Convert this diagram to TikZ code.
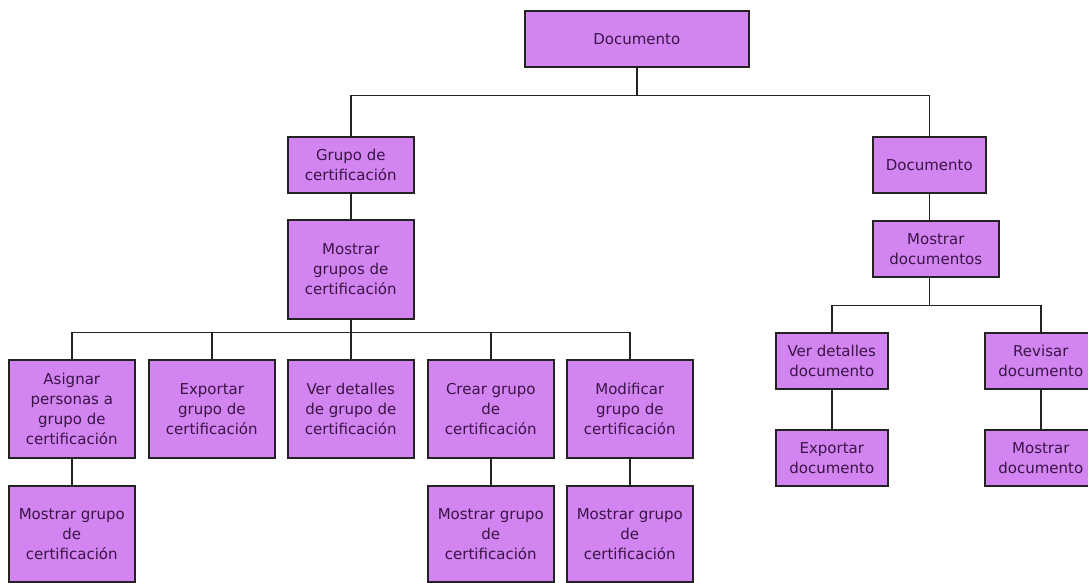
\documentclass[tikz,border=0pt]{standalone}
\usepackage{fontspec}
\setmainfont{DejaVu Sans}
\definecolor{boxfill}{RGB}{210,132,240}
\definecolor{txtcol}{RGB}{58,20,70}
\definecolor{edgecol}{RGB}{35,35,35}
\begin{document}
\begin{tikzpicture}[x=1pt,y=-1pt,
  box/.style={draw=edgecol, fill=boxfill, text=txtcol, line width=1.6pt,
    inner sep=0pt, align=center, anchor=north west,
    font=\fontsize{15}{20}\selectfont},
  wA/.style={minimum width=126pt},
  wB/.style={minimum width=112pt},
  hA/.style={minimum height=56pt},
  hB/.style={minimum height=98pt},
  conn/.style={draw=edgecol, line width=1.6pt}]
\useasboundingbox (0,0) rectangle (1088,583);
\clip (0,0) rectangle (1088,583);
\fill[white] (0,0) rectangle (1088,583);

\node[box, minimum width=224pt, hA] (root) at (524,10) {Documento};
\node[box, wA, hA] (grupo) at (287,136) {Grupo de\\certificación};
\node[box, minimum width=113pt, hA] (doc) at (872,136) {Documento};
\node[box, wA, minimum height=99pt] (mgr) at (287,219) {Mostrar\\grupos de\\certificación};

\node[box, wA, hB] (asig) at (8,359) {Asignar\\personas a\\grupo de\\certificación};
\node[box, wA, hB] (expg) at (148,359) {Exportar\\grupo de\\certificación};
\node[box, wA, hB] (ver) at (287,359) {Ver detalles\\de grupo de\\certificación};
\node[box, wA, hB] (crear) at (427,359) {Crear grupo\\de\\certificación};
\node[box, wA, hB] (modif) at (566,359) {Modificar\\grupo de\\certificación};

\node[box, wA, minimum height=96pt] (asigm) at (8,485) {Mostrar grupo\\de\\certificación};
\node[box, wA, minimum height=96pt] (crearm) at (427,485) {Mostrar grupo\\de\\certificación};
\node[box, wA, minimum height=96pt] (modifm) at (566,485) {Mostrar grupo\\de\\certificación};

\node[box, wA, hA] (mdocs) at (872,220) {Mostrar\\documentos};
\node[box, wB, hA] (verdoc) at (775,332) {Ver detalles\\documento};
\node[box, wB, hA] (rev) at (984,332) {Revisar\\documento};
\node[box, wB, hA] (expdoc) at (775,429) {Exportar\\documento};
\node[box, wB, hA] (mdoc) at (984,429) {Mostrar\\documento};

\draw[conn] (root.south) -- ++(0,28) -| (grupo.north)
            (root.south) ++(0,28) -| (doc.north);
\draw[conn] (grupo.south) -- (mgr.north);
\draw[conn] (mgr.south) -- ++(0,13) -| (asig.north)
            (mgr.south) ++(0,13) -| (expg.north)
            (mgr.south) ++(0,13) -| (ver.north)
            (mgr.south) ++(0,13) -| (crear.north)
            (mgr.south) ++(0,13) -| (modif.north);
\draw[conn] (asig.south) -- (asigm.north);
\draw[conn] (crear.south) -- (crearm.north);
\draw[conn] (modif.south) -- (modifm.north);

\draw[conn] (doc.south) -- (doc.south |- mdocs.north);
\draw[conn] (doc.south |- mdocs.south) -- ++(0,28) -| (verdoc.north)
            (doc.south |- mdocs.south) ++(0,28) -| (rev.north);
\draw[conn] (verdoc.south) -- (expdoc.north);
\draw[conn] (rev.south) -- (mdoc.north);
\end{tikzpicture}
\end{document}
